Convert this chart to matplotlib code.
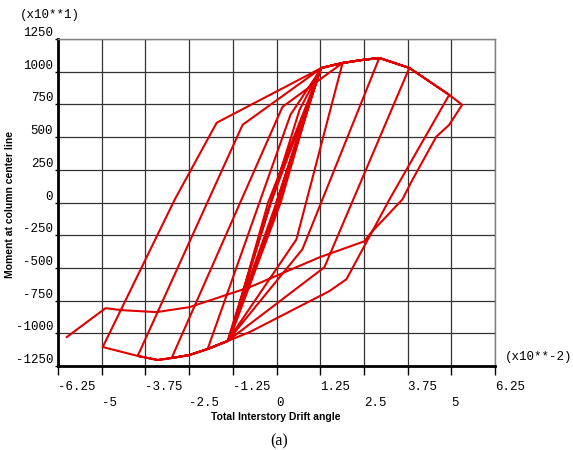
#!/usr/bin/env python3

import matplotlib
matplotlib.use("Agg")
import matplotlib.pyplot as plt

# drift angle in units of 1e-2 rad, moment in units of 10

# small elastic cycles
elastic_drift = [0.0, 1.18, 0.12, -1.33, -0.24, 1.24, 0.06, -1.37, -0.16, 1.27, 0.0, -1.40]
elastic_moment = [0, 980, 0, -1035, 0, 1005, 0, -1048, 0, 1020, 0, -1059]

# cycle A (+1.9 / -2.0)
cycle_a_drift = [0.66, 1.29, 1.89, 0.57, -1.40, -1.97]
cycle_a_moment = [709, 1029, 1067, -282, -1059, -1120]

# cycle B (+2.9 / -3.0)
cycle_b_drift = [0.40, 1.29, 1.89, 2.46, 2.94, 0.74, -1.40, -1.97, -2.49, -3.00]
cycle_b_moment = [671, 1029, 1067, 1090, 1105, -358, -1059, -1120, -1166, -1189]

# cycle C (+3.8 / -4.0)
cycle_c_drift = [0.17, 1.89, 2.46, 2.94, 3.80, 1.37, -1.40, -1.97, -2.49, -3.00, -3.40, -3.97]
cycle_c_moment = [731, 1067, 1090, 1105, 1029, -495, -1059, -1120, -1166, -1189, -1204, -1173]

# cycle D (+4.9 / -5.0)
cycle_d_drift = [-0.97, 1.29, 1.89, 2.46, 2.94, 3.80, 4.94, 3.23, 2.00, 1.51, -0.77,
                 -1.40, -1.97, -2.49, -3.00, -3.40, -3.97, -4.97]
cycle_d_moment = [594, 1029, 1067, 1090, 1105, 1029, 823, 23, -587, -678, -991,
                  -1059, -1120, -1166, -1189, -1204, -1173, -1105]

# cycle E (+5.3 / -6.0), last excursion with strength loss
cycle_e_drift = [-2.91, -1.71, 1.29, 1.89, 2.46, 2.94, 3.80, 4.94, 5.31,
                 4.94, 4.57, 3.89, 3.60, 2.71, 2.51, 1.23, -0.77, -2.49, -3.43, -4.43, -4.89, -6.00]
cycle_e_moment = [23, 610, 1029, 1067, 1090, 1105, 1029, 823, 747,
                  594, 503, 175, 23, -229, -297, -419, -648, -800, -838, -823, -808, -1029]

major_x = [-6.25, -3.75, -1.25, 1.25, 3.75, 6.25]
minor_x = [-5, -2.5, 0, 2.5, 5]
major_x_labels = ["-6.25", "-3.75", "-1.25", "1.25", "3.75", "6.25"]
minor_x_labels = ["-5", "-2.5", "0", "2.5", "5"]
y_ticks = [1250, 1000, 750, 500, 250, 0, -250, -500, -750, -1000, -1250]


def main():
    drift = (elastic_drift + cycle_a_drift + cycle_b_drift + cycle_c_drift
             + cycle_d_drift + cycle_e_drift)
    moment = (elastic_moment + cycle_a_moment + cycle_b_moment + cycle_c_moment
              + cycle_d_moment + cycle_e_moment)

    fig = plt.figure(figsize=(5.73, 4.5), dpi=100)
    ax = fig.add_axes([58 / 573, 84 / 450, 437 / 573, 327 / 450])

    ax.plot(drift, moment, color="#e00000", linewidth=1.5, zorder=3)

    ax.set_xlim(-6.25, 6.25)
    ax.set_ylim(-1250, 1250)

    mono = "Liberation Mono"
    ax.set_xticks(major_x, major_x_labels)
    ax.set_xticks(minor_x, minor_x_labels, minor=True)
    ax.set_yticks(y_ticks, [str(v) for v in y_ticks])
    for lbl in ax.get_xticklabels() + ax.get_xticklabels(minor=True):
        lbl.set_horizontalalignment("left")
        lbl.set_fontfamily(mono)
        lbl.set_fontsize(9)
    for lbl in ax.get_yticklabels():
        lbl.set_verticalalignment("bottom")
        lbl.set_fontfamily(mono)
        lbl.set_fontsize(9)

    ax.tick_params(axis="x", which="major", length=6.5, width=1, pad=4, color="black")
    ax.tick_params(axis="x", which="minor", length=6.5, width=1, pad=16, color="black")
    ax.tick_params(axis="y", length=2, width=1, pad=1.5, color="black")

    ax.grid(True, which="both", color="#333333", linewidth=0.9, zorder=1)
    ax.set_axisbelow(True)

    ax.spines["left"].set_linewidth(2)
    ax.spines["bottom"].set_linewidth(2)
    for side in ("top", "right"):
        ax.spines[side].set_linewidth(1)
        ax.spines[side].set_color("#808080")

    fig.text(20 / 573, 1 - 15 / 450, "(x10**1)", family=mono, fontsize=9, va="center")
    fig.text(505 / 573, 1 - 357 / 450, "(x10**-2)", family=mono, fontsize=9, va="center")

    fig.text(276 / 573, 1 - 417 / 450, "Total Interstory Drift angle",
             family="Liberation Sans", fontweight="bold", fontsize=7.5,
             ha="center", va="center")
    fig.text(10 / 573, 1 - 205 / 450, "Moment at column center line",
             family="Liberation Sans", fontweight="bold", fontsize=7.5,
             rotation=90, ha="center", va="center")
    fig.text(279 / 573, 1 - 441 / 450, "(a)", family="Liberation Serif",
             fontsize=11.5, ha="center", va="center")

    fig.savefig("out.png", dpi=100)
    plt.close(fig)


if __name__ == "__main__":
    main()
